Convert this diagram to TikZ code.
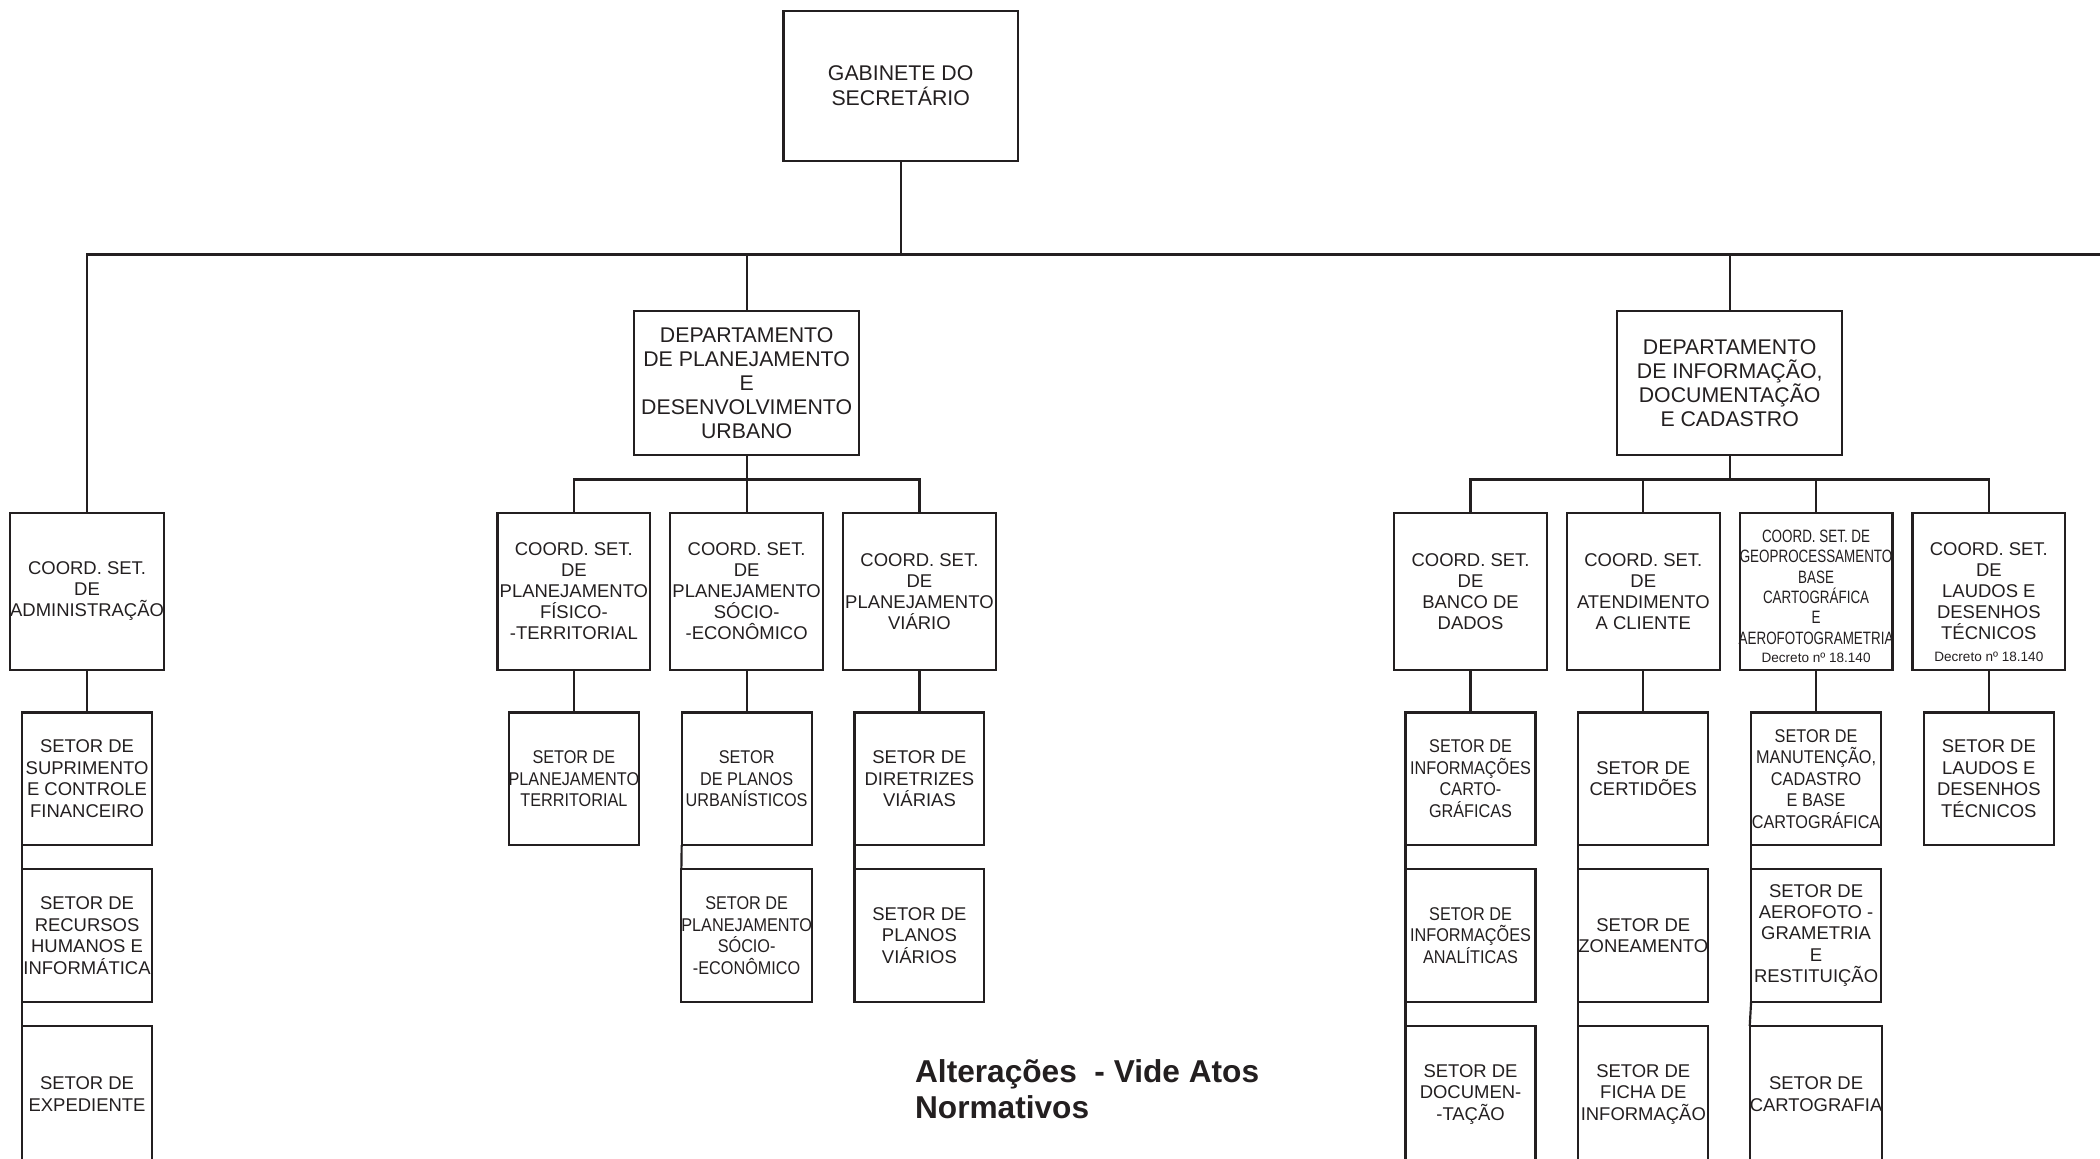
\documentclass[tikz,border=0pt]{standalone}
\usepackage{fontspec}
\setmainfont{Liberation Sans}
\newfontfamily\narrowfont[FakeStretch=0.88]{Liberation Sans}
\newfontfamily\condfont[FakeStretch=0.75]{Liberation Sans}
\definecolor{ink}{HTML}{231F20}

\begin{document}
\begin{tikzpicture}[
    x=0.025cm, y=-0.025cm,
    box/.style={draw=ink, line width=1.15pt, align=center, inner sep=0pt,
                outer sep=0pt, text=ink},
    gabbox/.style={box, minimum width=4.375cm, minimum height=2.8cm,
                   font=\fontsize{11.3}{12.8}\selectfont},
    deptbox/.style={box, minimum width=4.2cm, minimum height=2.7cm,
                    font=\fontsize{11.3}{12.8}\selectfont},
    coordbox/.style={box, minimum width=2.85cm, minimum height=2.925cm,
                     font=\fontsize{9.8}{11.1}\selectfont},
    setorbox/.style={box, minimum width=2.425cm, minimum height=2.475cm,
                     font=\fontsize{9.8}{11.4}\selectfont},
    lastbox/.style={setorbox, minimum height=2.55cm},
    narrow/.style={font=\narrowfont\fontsize{9.8}{11.4}\selectfont},
    condtext/.style={align=center, inner sep=0pt, text=ink,
                     font=\condfont\fontsize{9.5}{10.8}\selectfont},
    link/.style={draw=ink, line width=1.15pt},
    dec/.style={font=\fontsize{7.2}{8}\selectfont, text=ink, inner sep=0pt},
    note/.style={font=\bfseries\fontsize{16.8}{19.2}\selectfont, text=ink,
                 align=left, inner sep=0pt},
]

\useasboundingbox (0,0) rectangle (1568,865);

% Gabinete
\node[gabbox] (gab) at (672.5,64) {GABINETE DO\\SECRETÁRIO};

% Departamentos
\node[deptbox] (dplan) at (557.5,286)
    {DEPARTAMENTO\\DE PLANEJAMENTO\\E\\DESENVOLVIMENTO\\URBANO};
\node[deptbox] (dinfo) at (1291.5,286)
    {DEPARTAMENTO\\DE INFORMAÇÃO,\\DOCUMENTAÇÃO\\E CADASTRO};

% Coordenacoes
\node[coordbox] (cadm) at (65,441.5) {COORD. SET.\\DE\\ADMINISTRAÇÃO};
\node[coordbox] (cfis) at (428.5,441.5)
    {COORD. SET.\\DE\\PLANEJAMENTO\\FÍSICO-\\-TERRITORIAL};
\node[coordbox] (csoc) at (557.5,441.5)
    {COORD. SET.\\DE\\PLANEJAMENTO\\SÓCIO-\\-ECONÔMICO};
\node[coordbox] (cvia) at (686.5,441.5)
    {COORD. SET.\\DE\\PLANEJAMENTO\\VIÁRIO};
\node[coordbox] (cban) at (1098,441.5) {COORD. SET.\\DE\\BANCO DE\\DADOS};
\node[coordbox] (cate) at (1227,441.5)
    {COORD. SET.\\DE\\ATENDIMENTO\\A CLIENTE};
\node[coordbox] (cgeo) at (1356,441.5) {};
\node[condtext] (tgeo) at (1356,438.5)
    {COORD. SET. DE\\GEOPROCESSAMENTO\\BASE\\CARTOGRÁFICA\\E\\AEROFOTOGRAMETRIA};
\node[coordbox] (clau) at (1485,441.5)
    {COORD. SET.\\DE\\LAUDOS E\\DESENHOS\\TÉCNICOS};

\node[dec, above=0.12cm] (dgeo) at (cgeo.south) {Decreto nº 18.140};
\node[dec, above=0.135cm] (dlau) at (clau.south) {Decreto nº 18.140};

% Setores - administracao
\node[setorbox] (sadm1) at (65,581.5)
    {SETOR DE\\SUPRIMENTO\\E CONTROLE\\FINANCEIRO};
\node[setorbox] (sadm2) at (65,698.5)
    {SETOR DE\\RECURSOS\\HUMANOS E\\INFORMÁTICA};
\node[lastbox] (sadm3) at (65,817) {SETOR DE\\EXPEDIENTE};

% Setores - planejamento
\node[setorbox, narrow] (sfis1) at (428.5,581.5)
    {SETOR DE\\PLANEJAMENTO\\TERRITORIAL};
\node[setorbox, narrow] (ssoc1) at (557.5,581.5)
    {SETOR\\DE PLANOS\\URBANÍSTICOS};
\node[setorbox, narrow] (ssoc2) at (557.5,698.5)
    {SETOR DE\\PLANEJAMENTO\\SÓCIO-\\-ECONÔMICO};
\node[setorbox] (svia1) at (686.5,581.5) {SETOR DE\\DIRETRIZES\\VIÁRIAS};
\node[setorbox] (svia2) at (686.5,698.5) {SETOR DE\\PLANOS\\VIÁRIOS};

% Setores - informacao
\node[setorbox, narrow] (sban1) at (1098,581.5)
    {SETOR DE\\INFORMAÇÕES\\CARTO-\\GRÁFICAS};
\node[setorbox, narrow] (sban2) at (1098,698.5)
    {SETOR DE\\INFORMAÇÕES\\ANALÍTICAS};
\node[lastbox] (sban3) at (1098,817) {SETOR DE\\DOCUMEN-\\-TAÇÃO};
\node[setorbox] (sate1) at (1227,581.5) {SETOR DE\\CERTIDÕES};
\node[setorbox] (sate2) at (1227,698.5) {SETOR DE\\ZONEAMENTO};
\node[lastbox] (sate3) at (1227,817) {SETOR DE\\FICHA DE\\INFORMAÇÃO};
\node[setorbox, narrow] (sgeo1) at (1356,581.5)
    {SETOR DE\\MANUTENÇÃO,\\CADASTRO\\E BASE\\CARTOGRÁFICA};
\node[setorbox] (sgeo2) at (1356,698.5)
    {SETOR DE\\AEROFOTO -\\GRAMETRIA\\E\\RESTITUIÇÃO};
\node[lastbox] (sgeo3) at (1356,817) {SETOR DE\\CARTOGRAFIA};
\node[setorbox] (slau1) at (1485,581.5)
    {SETOR DE\\LAUDOS E\\DESENHOS\\TÉCNICOS};

% Ligacoes
\coordinate (bus) at (0,190);
\coordinate (busend) at (1580,190);
\coordinate (pbus) at (0,358);

\draw[link] (gab.south) -- (gab.south |- bus);
\draw[link] (cadm.north) -- (cadm.north |- bus) -- (busend);
\draw[link] (dplan.north) -- (dplan.north |- bus);
\draw[link] (dinfo.north) -- (dinfo.north |- bus);

\draw[link] (dplan.south) -- (csoc.north);
\draw[link] (cfis.north) -- (cfis.north |- pbus) -- (cvia.north |- pbus)
    -- (cvia.north);

\draw[link] (dinfo.south) -- (dinfo.south |- pbus);
\draw[link] (cban.north) -- (cban.north |- pbus) -- (clau.north |- pbus)
    -- (clau.north);
\draw[link] (cate.north) -- (cate.north |- pbus);
\draw[link] (cgeo.north) -- (cgeo.north |- pbus);

\draw[link] (cadm.south) -- (sadm1.north);
\draw[link] (sadm1.south west) -- (sadm2.north west);
\draw[link] (sadm2.south west) -- (sadm3.north west);

\draw[link] (cfis.south) -- (sfis1.north);
\draw[link] (csoc.south) -- (ssoc1.north);
\draw[link] (ssoc1.south west) -- (ssoc2.north west);
\draw[link] (cvia.south) -- (svia1.north);
\draw[link] (svia1.south west) -- (svia2.north west);

\draw[link] (cban.south) -- (sban1.north);
\draw[link] (sban1.south west) -- (sban2.north west);
\draw[link] (sban2.south west) -- (sban3.north west);
\draw[link] (cate.south) -- (sate1.north);
\draw[link] (sate1.south west) -- (sate2.north west);
\draw[link] (sate2.south west) -- (sate3.north west);
\draw[link] (cgeo.south) -- (sgeo1.north);
\draw[link] (sgeo1.south west) -- (sgeo2.north west);
\draw[link] (sgeo2.south west) -- (sgeo3.north west);
\draw[link] (clau.south) -- (slau1.north);

% Nota
\node[note, anchor=north west] (alt) at (683,791)
    {Alterações~ - Vide Atos\\Normativos};

\end{tikzpicture}
\end{document}
